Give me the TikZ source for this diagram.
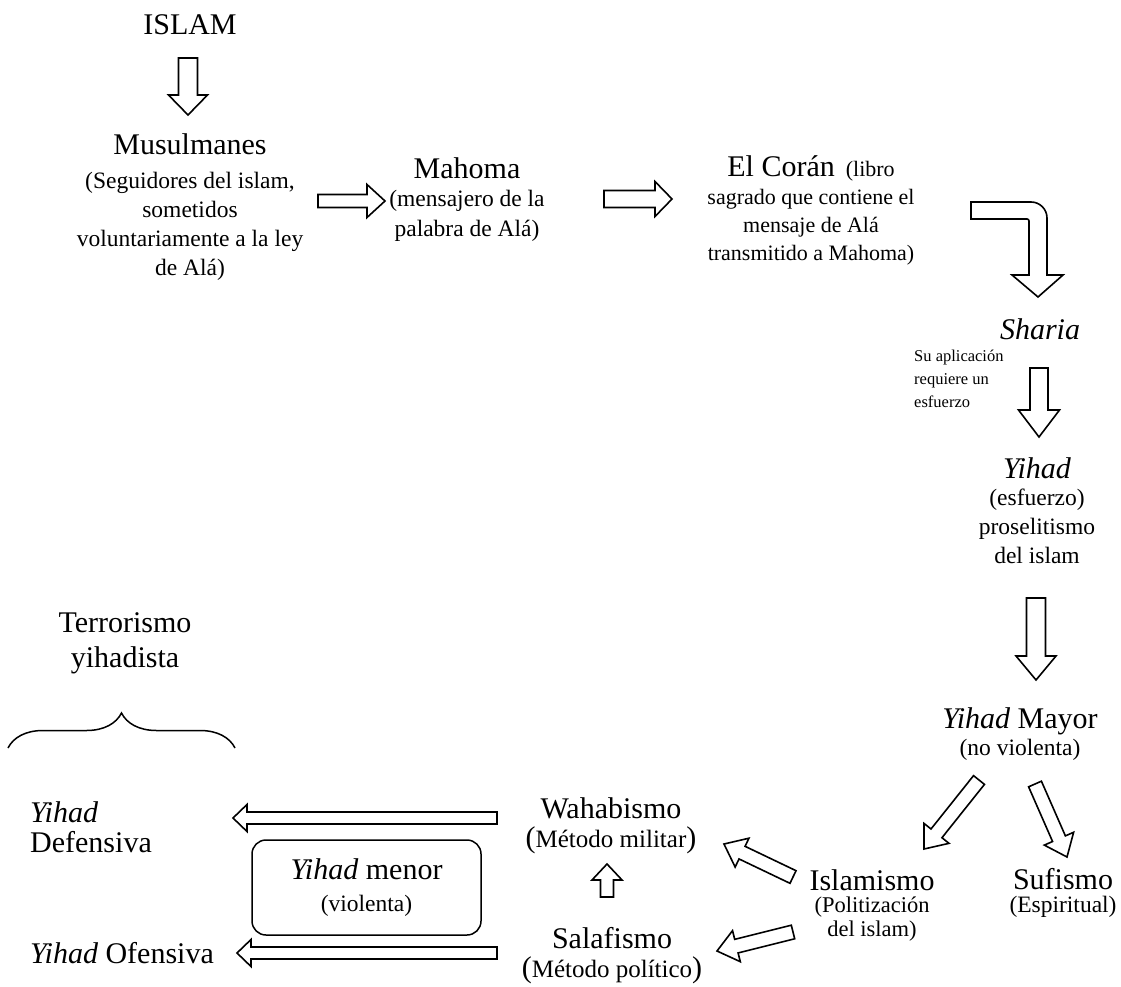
\documentclass[tikz,border=0pt]{standalone}
\usepackage{fontspec}
\setmainfont{Liberation Serif}
\usetikzlibrary{calc,decorations.pathreplacing}
\newcommand\fbig{\fontsize{30}{35}\selectfont}
\newcommand\fmed{\fontsize{23.5}{29}\selectfont}
\newcommand\fcor{\fontsize{22}{28}\selectfont}
\newcommand\fisl{\fontsize{22.5}{26}\selectfont}
\newcommand\fsml{\fontsize{16.5}{23}\selectfont}
\newcommand\fmet{\fontsize{25}{30}\selectfont}
\newcommand\barrow[5]{%
  \coordinate (bH) at ($(#2)!#5!(#1)$);
  \draw[blockline] ($(#1)!#3!90:(#2)$) -- ($(bH)!#3!90:(#2)$) -- ($(bH)!#4!90:(#2)$) -- (#2)
    -- ($(bH)!#4!-90:(#2)$) -- ($(bH)!#3!-90:(#2)$) -- ($(#1)!#3!-90:(#2)$) -- cycle;}
\begin{document}
\begin{tikzpicture}[x=1pt,y=-1pt,
  txt/.style={inner sep=0pt, align=center, font=\fmed, anchor=base},
  blockline/.style={draw, line width=1.6pt, fill=white, line join=miter},
  boxline/.style={draw, line width=1.5pt, rounded corners=14pt}]
\useasboundingbox (0,0) rectangle (1121,987);
% texts (anchor base = baseline of the last line)
\node[txt, font=\fbig] (islam) at (190,35) {ISLAM};
\node[txt] (musul) at (190,275) {{\fbig Musulmanes}\\[5pt](Seguidores del islam,\\sometidos\\voluntariamente a la ley\\de Alá)};
\node[txt] (mahoma) at (467,236) {{\fbig Mahoma}\\(mensajero de la\\palabra de Alá)};
\node[txt, font=\fcor] (coran) at (811,260) {{\fbig El Corán}\ \ (libro\\sagrado que contiene el\\mensaje de Alá\\transmitido a Mahoma)};
\node[txt, font=\fbig\itshape] (sharia) at (1040,339) {Sharia};
\node[txt, font=\fsml, align=left, anchor=base west] (nota) at (914,407) {Su aplicación\\requiere un\\esfuerzo};
\node[txt] (yihad) at (1037,563) {{\fbig\itshape Yihad}\\[-2pt](esfuerzo)\\proselitismo\\del islam};
\node[txt] (mayor) at (1020,755) {{\fbig\textit{Yihad} Mayor}\\[-2pt](no violenta)};
\node[txt, font=\fisl] (islamismo) at (872,936) {{\fbig Islamismo}\\[-4pt](Politización\\[-2pt]del islam)};
\node[txt] (sufismo) at (1063,912) {{\fbig Sufismo}\\[-6pt](Espiritual)};
\node[txt, font=\fmet] (wahab) at (611,847) {{\fbig Wahabismo}\\[-1pt]{\fbig(}Método militar{\fbig)}};
\node[txt, font=\fmet] (salaf) at (612,977) {{\fbig Salafismo}\\[-1pt]{\fbig(}Método político{\fbig)}};
\node[boxline, minimum width=229pt, minimum height=95pt, inner sep=0pt, align=center, font=\fmed] (menor) at (366.5,887.5)
  {{\fbig\textit{Yihad} menor}\\[3pt](violenta)};
\node[txt, font=\fbig, align=left, anchor=base west] (defens) at (30,852) {\textit{Yihad}\\[-5pt]Defensiva};
\node[txt, font=\fbig, anchor=base west] (ofens) at (30,963) {\textit{Yihad} Ofensiva};
\node[txt, font=\fbig] (terror) at (125,667) {Terrorismo\\yihadista};
% brace
\coordinate (brL) at (8,748);
\coordinate (brR) at (235,748);
\draw[decorate, decoration={brace, amplitude=35pt}, line width=1.5pt] (brL) -- (brR);
% arrow coordinates
\coordinate (a1t) at (188,58);   \coordinate (a1h) at (188,115);
\coordinate (a2t) at (318,201);  \coordinate (a2h) at (385,201);
\coordinate (a3t) at (604,199);  \coordinate (a3h) at (672,199);
\coordinate (a5t) at (1039,368); \coordinate (a5h) at (1039,437);
\coordinate (a6t) at (1036,598); \coordinate (a6h) at (1036,680);
\coordinate (a7t) at (979,780);  \coordinate (a7h) at (924,849);
\coordinate (a8t) at (1035,784); \coordinate (a8h) at (1067,857);
\coordinate (a9t) at (793,877);  \coordinate (a9h) at (724,844);
\coordinate (a10t) at (793,932); \coordinate (a10h) at (717,951);
\coordinate (a11t) at (607,897); \coordinate (a11h) at (607,864);
\coordinate (a12t) at (497,818); \coordinate (a12h) at (233,818);
\coordinate (a13t) at (497,953); \coordinate (a13h) at (237,953);
\barrow{a1t}{a1h}{9.5pt}{19.5pt}{20pt}
\barrow{a2t}{a2h}{6.5pt}{16.5pt}{18pt}
\barrow{a3t}{a3h}{8.5pt}{17.5pt}{17pt}
\barrow{a5t}{a5h}{9pt}{20.5pt}{27pt}
\barrow{a6t}{a6h}{9.5pt}{20pt}{24pt}
\barrow{a7t}{a7h}{7pt}{16pt}{20pt}
\barrow{a8t}{a8h}{7pt}{16pt}{20pt}
\barrow{a9t}{a9h}{7pt}{16pt}{20pt}
\barrow{a10t}{a10h}{7pt}{16pt}{20pt}
\barrow{a11t}{a11h}{6.5pt}{15pt}{16pt}
\barrow{a12t}{a12h}{6pt}{13.5pt}{14pt}
\barrow{a13t}{a13h}{6pt}{13.5pt}{14pt}
% bent arrow Coran -> Sharia
\draw[blockline] (971,202) [rounded corners=16pt] -- (1047,202) -- (1047,240) [sharp corners] -- (1047,275)
  -- (1063,275) -- (1038,297) -- (1012,275) -- (1029,275) -- (1029,240) [rounded corners=2pt] -- (1029,219)
  -- (995,219) [sharp corners] -- (971,219) -- cycle;
\end{tikzpicture}
\end{document}
